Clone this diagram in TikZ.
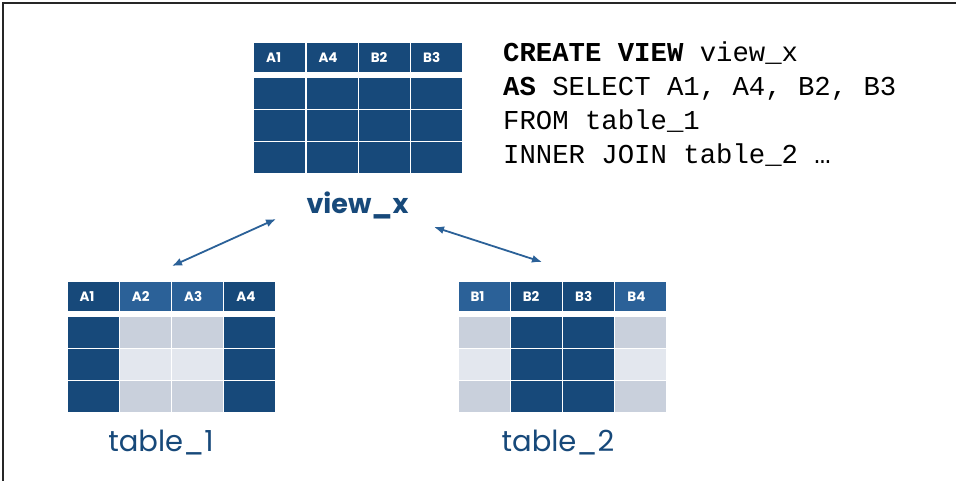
\documentclass[tikz,border=0pt]{standalone}
\usepackage{fontspec}
\setmonofont{Liberation Mono}
\newfontfamily\gothfont{Poppins}
\usetikzlibrary{arrows.meta}
\definecolor{navy}{HTML}{17497A}
\definecolor{midblue}{HTML}{2B6198}
\definecolor{greyblue}{HTML}{C9D0DC}
\definecolor{paleblue}{HTML}{E3E7EE}
\begin{document}
\begin{tikzpicture}[x=1pt,y=-1pt,
    cell/.style={inner sep=0pt, anchor=north west, minimum width=51pt, minimum height=31pt},
    head/.style={cell, minimum height=29.5pt, text width=27pt, align=left, text=white,
        font=\gothfont\bfseries\fontsize{13.5}{13.5}\selectfont},
    lbl/.style={anchor=base, text=navy},
    code/.style={anchor=base west, inner sep=0pt, font=\ttfamily\fontsize{27.3}{30}\selectfont},
    conn/.style={{Latex[length=10pt,width=8pt]}-{Latex[length=10pt,width=8pt]}, draw=midblue, line width=1.8pt}]
    \useasboundingbox (0,0) rectangle (956,481);
    \draw [line width=2pt, black!85] (3,481) -- (3,3) -- (956,3);
    % the view
    \foreach \lab [count=\i from 0] in {A1,A4,B2,B3} {
        \node [head, fill=navy] (v-h\i) at ({254+52.3*\i},42.7) {\lab};
        \foreach \j in {1,2,3}
            \node [cell, fill=navy] (v-\i-\j) at ({254+52.3*\i},{45.7+32*\j}) {};
    }
    \node [lbl, font=\gothfont\bfseries\fontsize{27}{27}\selectfont] (viewlbl) at (357.5,213.3) {view\_x};
    % table_1
    \foreach \lab/\hc/\oc/\ec [count=\i from 0] in {A1/navy/navy/navy, A2/midblue/greyblue/paleblue,
            A3/midblue/greyblue/paleblue, A4/navy/navy/navy} {
        \node [head, fill=\hc] (ta-h\i) at ({67.3+52.3*\i},281.7) {\lab};
        \node [cell, fill=\oc] (ta-\i-1) at ({67.3+52.3*\i},316.7) {};
        \node [cell, fill=\ec] (ta-\i-2) at ({67.3+52.3*\i},348.7) {};
        \node [cell, fill=\oc] (ta-\i-3) at ({67.3+52.3*\i},380.7) {};
    }
    \node [lbl, font=\gothfont\fontsize{29}{29}\selectfont] (talbl) at (161,451.7) {table\_1};
    % table_2
    \foreach \lab/\hc/\oc/\ec [count=\i from 0] in {B1/midblue/greyblue/paleblue, B2/navy/navy/navy,
            B3/navy/navy/navy, B4/midblue/greyblue/paleblue} {
        \node [head, fill=\hc] (tb-h\i) at ({458.3+52.3*\i},281.7) {\lab};
        \node [cell, fill=\oc] (tb-\i-1) at ({458.3+52.3*\i},316.7) {};
        \node [cell, fill=\ec] (tb-\i-2) at ({458.3+52.3*\i},348.7) {};
        \node [cell, fill=\oc] (tb-\i-3) at ({458.3+52.3*\i},380.7) {};
    }
    \node [lbl, font=\gothfont\fontsize{29}{29}\selectfont] (tblbl) at (558,451.7) {table\_2};
    % the sql
    \node [code] (sql1) at (503,61.7) {\textbf{CREATE VIEW} view\_x};
    \node [code] (sql2) at (503,95.6) {\textbf{AS} SELECT A1, A4, B2, B3};
    \node [code] (sql3) at (503,129.5) {FROM table\_1};
    \node [code] (sql4) at (503,163.4) {INNER JOIN table\_2 …};
    % links
    \coordinate (ta-end) at (172,266);
    \coordinate (va-end) at (276,219);
    \coordinate (vb-end) at (434,227);
    \coordinate (tb-end) at (542,262);
    \draw [conn] (ta-end) -- (va-end);
    \draw [conn] (vb-end) -- (tb-end);
\end{tikzpicture}
\end{document}
